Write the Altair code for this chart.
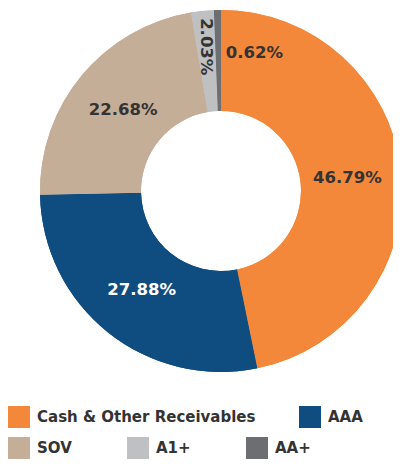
import altair as alt
import pandas as pd

categories = ["Cash & Other Receivables", "AAA", "SOV", "A1+", "AA+"]
values = [46.79, 27.88, 22.68, 2.03, 0.62]
colors = ["#F4883A", "#0F4C7F", "#C4AE98", "#BEC0C2", "#6D6E71"]
labels = [f"{v:.2f}%" for v in values]

df = pd.DataFrame({
    "category": categories,
    "value": values,
    "order": list(range(len(categories))),
    "label": labels,
})

FONT = "DejaVu Sans"
DARK = "#333333"
CX, CY = 213, 183

base = alt.Chart(df).encode(
    theta=alt.Theta("value:Q", stack=True),
    order=alt.Order("order:Q"),
    x=alt.value(CX),
    y=alt.value(CY),
)

scale = alt.Scale(domain=categories, range=colors)

legend_common = dict(
    orient="none", direction="horizontal", symbolType="square", symbolSize=484,
    symbolStrokeWidth=0, labelFont=FONT, labelFontSize=15, labelFontWeight="bold",
    labelColor=DARK, labelOffset=7, labelLimit=400, padding=0, legendX=0,
)

arc_top = base.mark_arc(innerRadius=80, outerRadius=181).encode(
    color=alt.Color("category:N", scale=scale, title=None,
                    legend=alt.Legend(values=categories[:2], legendY=398,
                                      columnPadding=43, **legend_common))
)
arc_bottom = base.mark_arc(innerRadius=80, outerRadius=181).encode(
    color=alt.Color("category:N", scale=scale, title=None,
                    legend=alt.Legend(values=categories[2:], legendY=429,
                                      columnPadding=55, **legend_common))
)

t_main = base.mark_text(radius=127, font=FONT, fontWeight="bold", fontSize=16.5).encode(
    text=alt.condition("datum.value > 5", alt.Text("label:N"), alt.value("")),
    color=alt.condition("datum.category == 'AAA'", alt.value("white"), alt.value(DARK)),
)
t_a1 = base.mark_text(radius=145, angle=90, font=FONT, fontWeight="bold",
                      fontSize=16.5, color=DARK).encode(
    text=alt.condition("datum.category == 'A1+'", alt.Text("label:N"), alt.value("")),
)
t_aa = base.mark_text(radius=138, dx=36, font=FONT, fontWeight="bold",
                      fontSize=16.5, color=DARK).encode(
    text=alt.condition("datum.category == 'AA+'", alt.Text("label:N"), alt.value("")),
)

chart = alt.layer(arc_bottom, arc_top, t_main, t_a1, t_aa).resolve_scale(
    color="independent"
).properties(
    width=385, height=452, padding=0,
    autosize=alt.AutoSizeParams(type="none"),
).configure_view(strokeWidth=0)

chart.save("out.html", embed_options={"renderer": "svg", "actions": False})
